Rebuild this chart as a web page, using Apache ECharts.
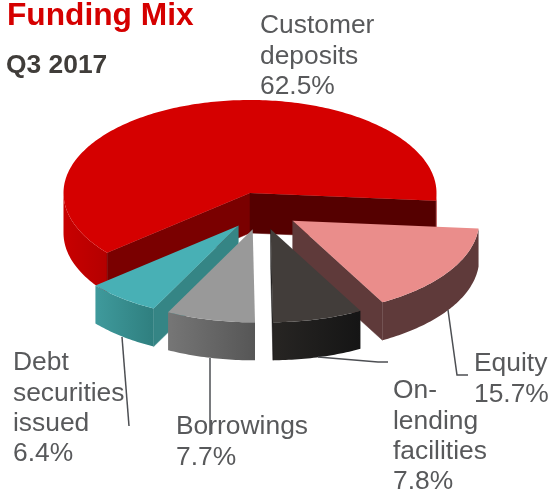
<!DOCTYPE html>
<html>
<head>
<meta charset="utf-8">
<style>
  html, body { margin: 0; padding: 0; background: #fff; }
  #chart { width: 550px; height: 489px; }
</style>
<script src="https://cdn.jsdelivr.net/npm/echarts@6/dist/echarts.min.js"></script>
</head>
<body>
<div id="chart"></div>
<script>
// clockwise from the customer deposits slice
var categories = ["Customer deposits", "Equity", "On-lending facilities", "Borrowings", "Debt securities issued"];
var shares = [62.5, 15.7, 7.8, 7.7, 6.4];

// label text broken the way the slide breaks it
var labelLines = [
  ["Customer", "deposits"],
  ["Equity"],
  ["On-", "lending", "facilities"],
  ["Borrowings"],
  ["Debt", "securities", "issued"]
];

// look of the fake 3d pie
var cx = 250, cy = 193, rx = 186.5, ry = 93;
var startAngle = 140; // degrees clockwise from east
var drawOrder = [0, 1, 4, 3, 2]; // back to front
var explode = [[0, 0], [42.7, 27.7], [20.7, 36.3], [2.7, 36.3], [-11.7, 32.7]];
var depth = [40, 38, 38, 38, 38];
var topColors = ["#d50000", "#ea8d8b", "#423d3a", "#999999", "#48b0b5"];
var rimColors = [
  ["#c80000", "#b40000"],
  ["#5f3a3a", "#5f3a3a"],
  ["#272523", "#151515"],
  ["#767676", "#565656"],
  ["#3f9a9c", "#2f7f7f"]
];
// cut faces: [face at start of slice, face at end of slice]
var faceColors = [
  ["#7a0000", "#550000"],
  ["#5f3a3a", "#5f3a3a"],
  ["#1c1b1a", "#1c1b1a"],
  ["#5a5a5a", "#5a5a5a"],
  ["#358585", "#358585"]
];

var labelPos = [[260, 11], [474, 349], [393, 376], [176, 412], [13, 348]];
var leaders = [
  null,
  [[448, 310], [457, 375], [468, 375]],
  [[318, 357], [378, 362], [388, 362]],
  [[210, 358], [210, 435]],
  [[122, 337], [129, 426]]
];

var total = shares.reduce(function (a, b) { return a + b; }, 0);
var angles = [];
var cur = startAngle;
shares.forEach(function (v) {
  var next = cur + v / total * 360;
  angles.push([cur, next]);
  cur = next;
});

function pt(i, deg, r, down) {
  var t = deg * Math.PI / 180;
  return [
    cx + explode[i][0] + r * rx * Math.cos(t),
    cy + explode[i][1] + r * ry * Math.sin(t) + (down || 0)
  ];
}

function arc(i, from, to, down) {
  var pts = [];
  var n = Math.max(2, Math.ceil(Math.abs(to - from)));
  for (var k = 0; k <= n; k++) {
    pts.push(pt(i, from + (to - from) * k / n, 1, down));
  }
  return pts;
}

function face(i, deg, color) {
  return {
    type: "polygon",
    shape: { points: [pt(i, deg, 0), pt(i, deg, 1), pt(i, deg, 1, depth[i]), pt(i, deg, 0, depth[i])] },
    style: { fill: color, stroke: color, lineWidth: 0.5 }
  };
}

function renderSlice(params, api) {
  var i = api.value(0);
  var a = angles[i][0], b = angles[i][1];
  var children = [];
  // only the front half of the rim can be seen
  [[0, 180], [360, 540]].forEach(function (range) {
    var from = Math.max(a, range[0]), to = Math.min(b, range[1]);
    if (to <= from) return;
    children.push({
      type: "polygon",
      shape: { points: arc(i, from, to, 0).concat(arc(i, to, from, depth[i])) },
      style: {
        fill: new echarts.graphic.LinearGradient(0, 0, 1, 0, [
          { offset: 0, color: rimColors[i][0] },
          { offset: 1, color: rimColors[i][1] }
        ])
      }
    });
  });
  if (Math.cos(a * Math.PI / 180) < 0) children.push(face(i, a, faceColors[i][0]));
  if (Math.cos(b * Math.PI / 180) > 0) children.push(face(i, b, faceColors[i][1]));
  children.push({
    type: "polygon",
    shape: { points: [pt(i, a, 0)].concat(arc(i, a, b, 0)) },
    style: { fill: topColors[i] }
  });
  return { type: "group", children: children };
}

var graphics = [];
categories.forEach(function (name, i) {
  if (leaders[i]) {
    graphics.push({
      type: "polyline",
      z: 5,
      shape: { points: leaders[i] },
      style: { fill: null, stroke: "#4d4f53", lineWidth: 1.5 }
    });
  }
  graphics.push({
    type: "text",
    z: 6,
    x: labelPos[i][0],
    y: labelPos[i][1],
    style: {
      text: labelLines[i].concat(shares[i].toFixed(1) + "%").join("\n"),
      fill: "#58595b",
      font: '26.4px "Liberation Sans", Arial, sans-serif',
      lineHeight: 30.3
    }
  });
});

var chart = echarts.init(document.getElementById("chart"), null, { renderer: "canvas" });
chart.setOption({
  animation: false,
  backgroundColor: "#fff",
  title: [
    {
      text: "Funding Mix",
      left: 7,
      top: 0,
      padding: 0,
      textStyle: { color: "#d50000", fontSize: 31.7, fontWeight: "bold", fontFamily: '"Liberation Sans", Arial' }
    },
    {
      text: "Q3 2017",
      left: 6,
      top: 53,
      padding: 0,
      textStyle: { color: "#403d3a", fontSize: 26.4, fontWeight: "bold", fontFamily: '"Liberation Sans", Arial' }
    }
  ],
  graphic: graphics,
  series: [
    {
      type: "custom",
      coordinateSystem: "none",
      silent: true,
      renderItem: renderSlice,
      data: drawOrder.map(function (i) { return [i]; })
    }
  ]
});
</script>
</body>
</html>
